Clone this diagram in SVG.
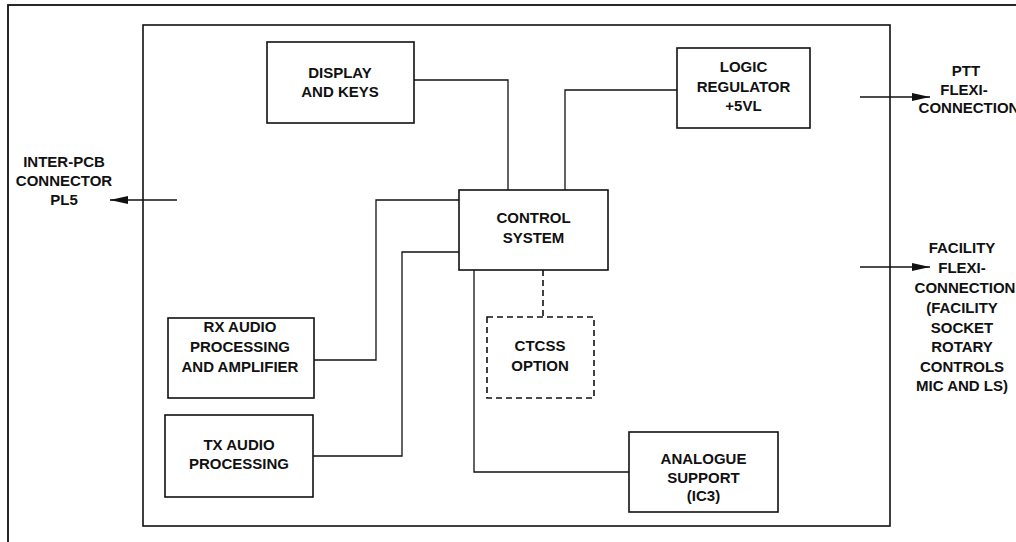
<svg xmlns="http://www.w3.org/2000/svg" width="1016" height="542" viewBox="0 0 1016 542">
  <style>
    .box { fill: none; stroke: #111; stroke-width: 1.6; }
    .dash { fill: none; stroke: #111; stroke-width: 1.6; stroke-dasharray: 6 4; }
    .wire { fill: none; stroke: #111; stroke-width: 1.3; }
    .lbl { font-family: "Liberation Sans", Arial, sans-serif; font-weight: bold; font-size: 15px; fill: #111; text-anchor: middle; }
  </style>
  <defs>
    <marker id="arrow" viewBox="0 0 18 8" refX="18" refY="4" markerWidth="18" markerHeight="8" markerUnits="userSpaceOnUse" orient="auto">
      <path d="M0,0 L18,4 L0,8 Z" fill="#111"/>
    </marker>
  </defs>
  <rect x="0" y="0" width="1016" height="542" fill="#fff"/>

  <!-- sheet frame and board outline -->
  <rect x="8" y="5" width="1030" height="560" fill="none" stroke="#111" stroke-width="1.8"/>
  <rect id="board" x="143" y="25" width="747" height="501" class="box"/>

  <!-- connectors -->
  <g id="connectors">
    <polyline class="wire" points="414,80 508,80 508,190"/>
    <polyline class="wire" points="565,190 565,90 677,90"/>
    <polyline class="wire" points="314,360 376,360 376,200 459,200"/>
    <polyline class="wire" points="313,456 402,456 402,252 459,252"/>
    <polyline class="wire" points="474,270 474,472 629,472"/>
    <line class="dash" x1="543" y1="270" x2="543" y2="317" stroke-dasharray="5 4"/>
    <line class="wire" x1="177" y1="200" x2="110" y2="200" marker-end="url(#arrow)"/>
    <line class="wire" x1="860" y1="97" x2="930" y2="97" marker-end="url(#arrow)"/>
    <line class="wire" x1="860" y1="267" x2="930" y2="267" marker-end="url(#arrow)"/>
  </g>

  <g id="display-keys">
    <rect x="267" y="42" width="147" height="81" class="box"/>
    <text class="lbl" x="340" y="78">DISPLAY</text>
    <text class="lbl" x="340" y="97">AND KEYS</text>
  </g>

  <g id="logic-regulator">
    <rect x="677" y="48" width="133" height="80" class="box"/>
    <text class="lbl" x="743.5" y="72">LOGIC</text>
    <text class="lbl" x="743.5" y="92">REGULATOR</text>
    <text class="lbl" x="743.5" y="111">+5VL</text>
  </g>

  <g id="control-system">
    <rect x="459" y="190" width="149" height="80" class="box"/>
    <text class="lbl" x="533.5" y="223">CONTROL</text>
    <text class="lbl" x="533.5" y="243">SYSTEM</text>
  </g>

  <g id="ctcss-option">
    <rect x="487" y="317" width="107" height="81" class="dash"/>
    <text class="lbl" x="540" y="351">CTCSS</text>
    <text class="lbl" x="540" y="371">OPTION</text>
  </g>

  <g id="rx-audio">
    <rect x="168" y="318" width="146" height="80" class="box"/>
    <text class="lbl" x="240" y="332">RX AUDIO</text>
    <text class="lbl" x="240" y="352">PROCESSING</text>
    <text class="lbl" x="240" y="372">AND AMPLIFIER</text>
  </g>

  <g id="tx-audio">
    <rect x="165" y="415" width="148" height="82" class="box"/>
    <text class="lbl" x="239" y="450">TX AUDIO</text>
    <text class="lbl" x="239" y="469">PROCESSING</text>
  </g>

  <g id="analogue-support">
    <rect x="629" y="432" width="149" height="80" class="box"/>
    <text class="lbl" x="703.5" y="464">ANALOGUE</text>
    <text class="lbl" x="703.5" y="483">SUPPORT</text>
    <text class="lbl" x="703.5" y="501">(IC3)</text>
  </g>

  <g id="inter-pcb">
    <text class="lbl" x="64" y="167">INTER-PCB</text>
    <text class="lbl" x="64" y="186">CONNECTOR</text>
    <text class="lbl" x="64" y="205">PL5</text>
  </g>

  <g id="ptt-flexi">
    <text class="lbl" x="966" y="76">PTT</text>
    <text class="lbl" x="964" y="95">FLEXI-</text>
    <text class="lbl" x="969" y="113">CONNECTION</text>
  </g>

  <g id="facility-flexi">
    <text class="lbl" x="962" y="253">FACILITY</text>
    <text class="lbl" x="962" y="273">FLEXI-</text>
    <text class="lbl" x="965" y="293">CONNECTION</text>
    <text class="lbl" x="962" y="313">(FACILITY</text>
    <text class="lbl" x="962" y="333">SOCKET</text>
    <text class="lbl" x="962" y="352">ROTARY</text>
    <text class="lbl" x="962" y="372">CONTROLS</text>
    <text class="lbl" x="962" y="391">MIC AND LS)</text>
  </g>
</svg>
